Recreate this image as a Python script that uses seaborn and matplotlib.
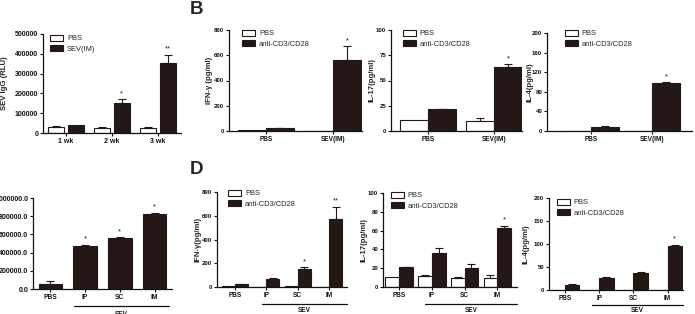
import matplotlib
matplotlib.use('Agg')
import matplotlib.pyplot as plt
import seaborn as sns
import pandas as pd
import numpy as np

sns.set_style('ticks')
plt.rcParams['font.family'] = ['Liberation Sans', 'DejaVu Sans']
plt.rcParams['axes.linewidth'] = 0.8

DARK = '#241816'
W, H = 695, 314

# ---------------- data ----------------
# Panel A : SEV IgG
a_cats = ['1 wk', '2 wk', '3 wk']
a_series = ['PBS', 'SEV(IM)']
a_pbs = [32000, 27000, 27000]
a_pbs_err = [2000, 1500, 5000]
a_sev = [40000, 150000, 355000]
a_sev_err = [0, 20000, 40000]
a_stars = ['', '*', '**']
a_yticks = [0, 100000, 200000, 300000, 400000, 500000]

# Panel B (PBS vs SEV(IM))
b_cats = ['PBS', 'SEV(IM)']
bd_series = ['PBS', 'anti-CD3/CD28']
b_ifn_pbs = [9, 0]
b_ifn_pbs_err = [0, 0]
b_ifn_anti = [22, 562]
b_ifn_anti_err = [3, 110]
b_ifn_stars = ['', '*']
b_il17_pbs = [10.8, 10.2]
b_il17_pbs_err = [0, 3]
b_il17_anti = [21.5, 63]
b_il17_anti_err = [0.5, 3]
b_il17_stars = ['', '*']
b_il4_pbs = [0, 0]
b_il4_pbs_err = [0, 0]
b_il4_anti = [9, 97]
b_il4_anti_err = [2, 3]
b_il4_stars = ['', '*']

# Panel C : single series
c_cats = ['PBS', 'IP', 'SC', 'IM']
c_vals = [55000, 476000, 557000, 820000]
c_err = [33000, 8000, 12000, 16000]
c_stars = ['', '*', '*', '*']
c_yticks = [0, 200000, 400000, 600000, 800000, 1000000]

# Panel D
d_cats = ['PBS', 'IP', 'SC', 'IM']
d_ifn_pbs = [10, 3, 5, 0]
d_ifn_pbs_err = [0, 0, 0, 0]
d_ifn_anti = [25, 65, 152, 570]
d_ifn_anti_err = [3, 8, 14, 106]
d_ifn_stars = ['', '', '*', '**']
d_il17_pbs = [10.6, 11.3, 9.9, 9.6]
d_il17_pbs_err = [0, 1.1, 0.5, 3.2]
d_il17_anti = [21.3, 36.2, 20.2, 62.8]
d_il17_anti_err = [0.4, 5.3, 3.8, 2.4]
d_il17_stars = ['', '', '', '*']
d_il4_pbs = [0, 0, 0, 0]
d_il4_pbs_err = [0, 0, 0, 0]
d_il4_anti = [11, 25.4, 36, 96.3]
d_il4_anti_err = [1.5, 2.5, 2.5, 2]
d_il4_stars = ['', '', '', '*']

fig = plt.figure(figsize=(W / 100, H / 100), dpi=100)

LAB_FS = 5.6
LEG_FS = 5.4


def add_axes(px):
    l, r, t, b = px
    return fig.add_axes([l / W, 1 - b / H, (r - l) / W, (b - t) / H])


def decorate(ax, px, xlim, yticks, yticklabels, ylabel, ylabel_x, yfs=4.3, xfs=4.7):
    l, r, t, b = px
    ax.set_xlim(*xlim)
    ax.set_ylim(yticks[0], yticks[-1])
    ax.set_yticks(yticks)
    ax.set_yticklabels(yticklabels)
    sns.despine(ax=ax)
    for s in ('left', 'bottom'):
        ax.spines[s].set_linewidth(0.9)
        ax.spines[s].set_color('#111111')
    ax.tick_params(axis='both', direction='out', length=2.3, width=0.8,
                   pad=1.2, colors='#111111')
    ax.tick_params(axis='y', labelsize=yfs)
    ax.tick_params(axis='x', labelsize=xfs)
    for lab in ax.get_xticklabels() + ax.get_yticklabels():
        lab.set_fontweight('bold')
    ax.set_xlabel('')
    if ylabel:
        ax.set_ylabel(ylabel, fontsize=LAB_FS, fontweight='bold')
        ax.yaxis.set_label_coords((ylabel_x + 3 - l) / (r - l), 0.5)
    else:
        ax.set_ylabel('')


def add_errors(ax, containers, errs, stars):
    for cont, err, st in zip(containers, errs, stars):
        for p in cont.patches:
            xc = p.get_x() + p.get_width() / 2
            i = int(round(xc))
            h = p.get_height()
            e = err[i]
            if e > 0:
                ax.errorbar([xc], [h], yerr=[[0], [e]], fmt='none', ecolor=DARK,
                            elinewidth=0.8, capsize=2.6, capthick=0.8, zorder=3)
            if st[i]:
                ax.annotate(st[i], (xc, h + e), xytext=(0, 1.5), textcoords='offset points',
                            ha='center', va='bottom', fontsize=5.5, color='#222222')


def legend(ax, labels, x_px, y_px):
    ax.legend(ax.containers[:2], labels, loc='upper left',
              bbox_to_anchor=(x_px / W, 1 - y_px / H), bbox_transform=fig.transFigure,
              frameon=False, fontsize=LEG_FS, handlelength=1.75, handleheight=0.8,
              handletextpad=0.5, labelspacing=0.4, borderpad=0, borderaxespad=0)


def paired(px, cats, names, s1, e1, s2, e2, stars, xlim, yticks, yticklabels,
           ylabel, ylabel_x, leg_xy, width=0.84, gap=0.0, yfs=4.3, xfs=4.7):
    ax = add_axes(px)
    df = pd.DataFrame({
        'cat': list(cats) * 2,
        'series': [names[0]] * len(cats) + [names[1]] * len(cats),
        'val': list(s1) + list(s2),
    })
    sns.barplot(data=df, x='cat', y='val', hue='series', order=cats, hue_order=names,
                palette={names[0]: 'white', names[1]: DARK}, edgecolor=DARK,
                linewidth=0.8, width=width, gap=gap, errorbar=None, legend=False,
                saturation=1, ax=ax)
    add_errors(ax, ax.containers, [e1, e2], [[''] * len(cats), stars])
    decorate(ax, px, xlim, yticks, yticklabels, ylabel, ylabel_x, yfs, xfs)
    legend(ax, names, *leg_xy)
    return ax


def sev_line(ax, px, x0, x1, y_line, y_text):
    l, r, t, b = px
    yl = (b - y_line) / (b - t)
    yt = (b - y_text) / (b - t)
    ax.plot([x0, x1], [yl, yl], transform=ax.get_xaxis_transform(), color='#111111',
            lw=0.9, clip_on=False)
    ax.text((x0 + x1) / 2, yt, 'SEV', transform=ax.get_xaxis_transform(), ha='center',
            va='center', fontsize=4.7, fontweight='bold', color='#111111')


# ---------------- Panel A ----------------
pxA = (43, 181, 34, 133)
paired(pxA, a_cats, a_series, a_pbs, a_pbs_err, a_sev, a_sev_err, a_stars,
       (-0.5, 2.5), a_yticks, [str(v) for v in a_yticks], 'SEV IgG (RLU)', 5,
       (50, 35), width=0.83, gap=0.16, yfs=5.0, xfs=5.0)

# ---------------- Panel B ----------------
fig.text(190 / W, 1 - 0.5 / H, 'B', fontsize=13.5, fontweight='bold', va='top', ha='left')
pxB1 = (229, 362, 30, 131)
paired(pxB1, b_cats, bd_series, b_ifn_pbs, b_ifn_pbs_err, b_ifn_anti, b_ifn_anti_err,
       b_ifn_stars, (-0.55, 1.43), [0, 200, 400, 600, 800], ['0', '200', '400', '600', '800'],
       'IFN-\u03b3 (pg/ml)', 210, (242, 30))
pxB2 = (391, 522, 30, 131)
paired(pxB2, b_cats, bd_series, b_il17_pbs, b_il17_pbs_err, b_il17_anti, b_il17_anti_err,
       b_il17_stars, (-0.56, 1.42), [0, 25, 50, 75, 100], ['0', '25', '50', '75', '100'],
       'IL-17(pg/ml)', 373, (403, 30))
pxB3 = (547, 692, 33, 131)
paired(pxB3, b_cats, bd_series, b_il4_pbs, b_il4_pbs_err, b_il4_anti, b_il4_anti_err,
       b_il4_stars, (-0.72, 1.65), [0, 40, 80, 120, 160, 200],
       ['0', '40', '80', '120', '160', '200'], 'IL-4(pg/ml)', 530, (565, 30), width=0.9)

# ---------------- Panel C ----------------
pxC = (33, 172, 198, 289)
axC = add_axes(pxC)
sns.barplot(x=c_cats, y=c_vals, order=c_cats, color=DARK, edgecolor=DARK, linewidth=0.8,
            width=0.67, errorbar=None, saturation=1, ax=axC)
add_errors(axC, axC.containers, [c_err], [c_stars])
decorate(axC, pxC, (-0.5, 3.5), c_yticks, ['%.1f' % v for v in c_yticks], None, 0,
         yfs=5.0, xfs=4.8)
sev_line(axC, pxC, 1 - 0.33, 3 + 0.4, 306, 315)

# ---------------- Panel D ----------------
fig.text(190 / W, 1 - 161 / H, 'D', fontsize=13.5, fontweight='bold', va='top', ha='left')
pxD1 = (217, 347, 192, 287)
axD1 = paired(pxD1, d_cats, bd_series, d_ifn_pbs, d_ifn_pbs_err, d_ifn_anti, d_ifn_anti_err,
              d_ifn_stars, (-0.57, 3.57), [0, 200, 400, 600, 800],
              ['0', '200', '400', '600', '800'], 'IFN-\u03b3(pg/ml)', 198, (228, 190))
sev_line(axD1, pxD1, 1 - 0.15, 3.57, 304, 310.5)
pxD2 = (383, 517, 193, 287)
axD2 = paired(pxD2, d_cats, bd_series, d_il17_pbs, d_il17_pbs_err, d_il17_anti, d_il17_anti_err,
              d_il17_stars, (-0.49, 3.6), [0, 20, 40, 60, 80, 100],
              ['0', '20', '40', '60', '80', '100'], 'IL-17(pg/ml)', 364, (391, 192))
sev_line(axD2, pxD2, 1 - 0.2, 3.6, 304, 310.5)
pxD3 = (549, 683, 198, 290)
axD3 = paired(pxD3, d_cats, bd_series, d_il4_pbs, d_il4_pbs_err, d_il4_anti, d_il4_anti_err,
              d_il4_stars, (-0.47, 3.45), [0, 50, 100, 150, 200],
              ['0', '50', '100', '150', '200'], 'IL-4(pg/ml)', 526, (557, 199))
sev_line(axD3, pxD3, 1 - 0.2, 3.45, 305, 311)

fig.savefig('out.png', dpi=100)
